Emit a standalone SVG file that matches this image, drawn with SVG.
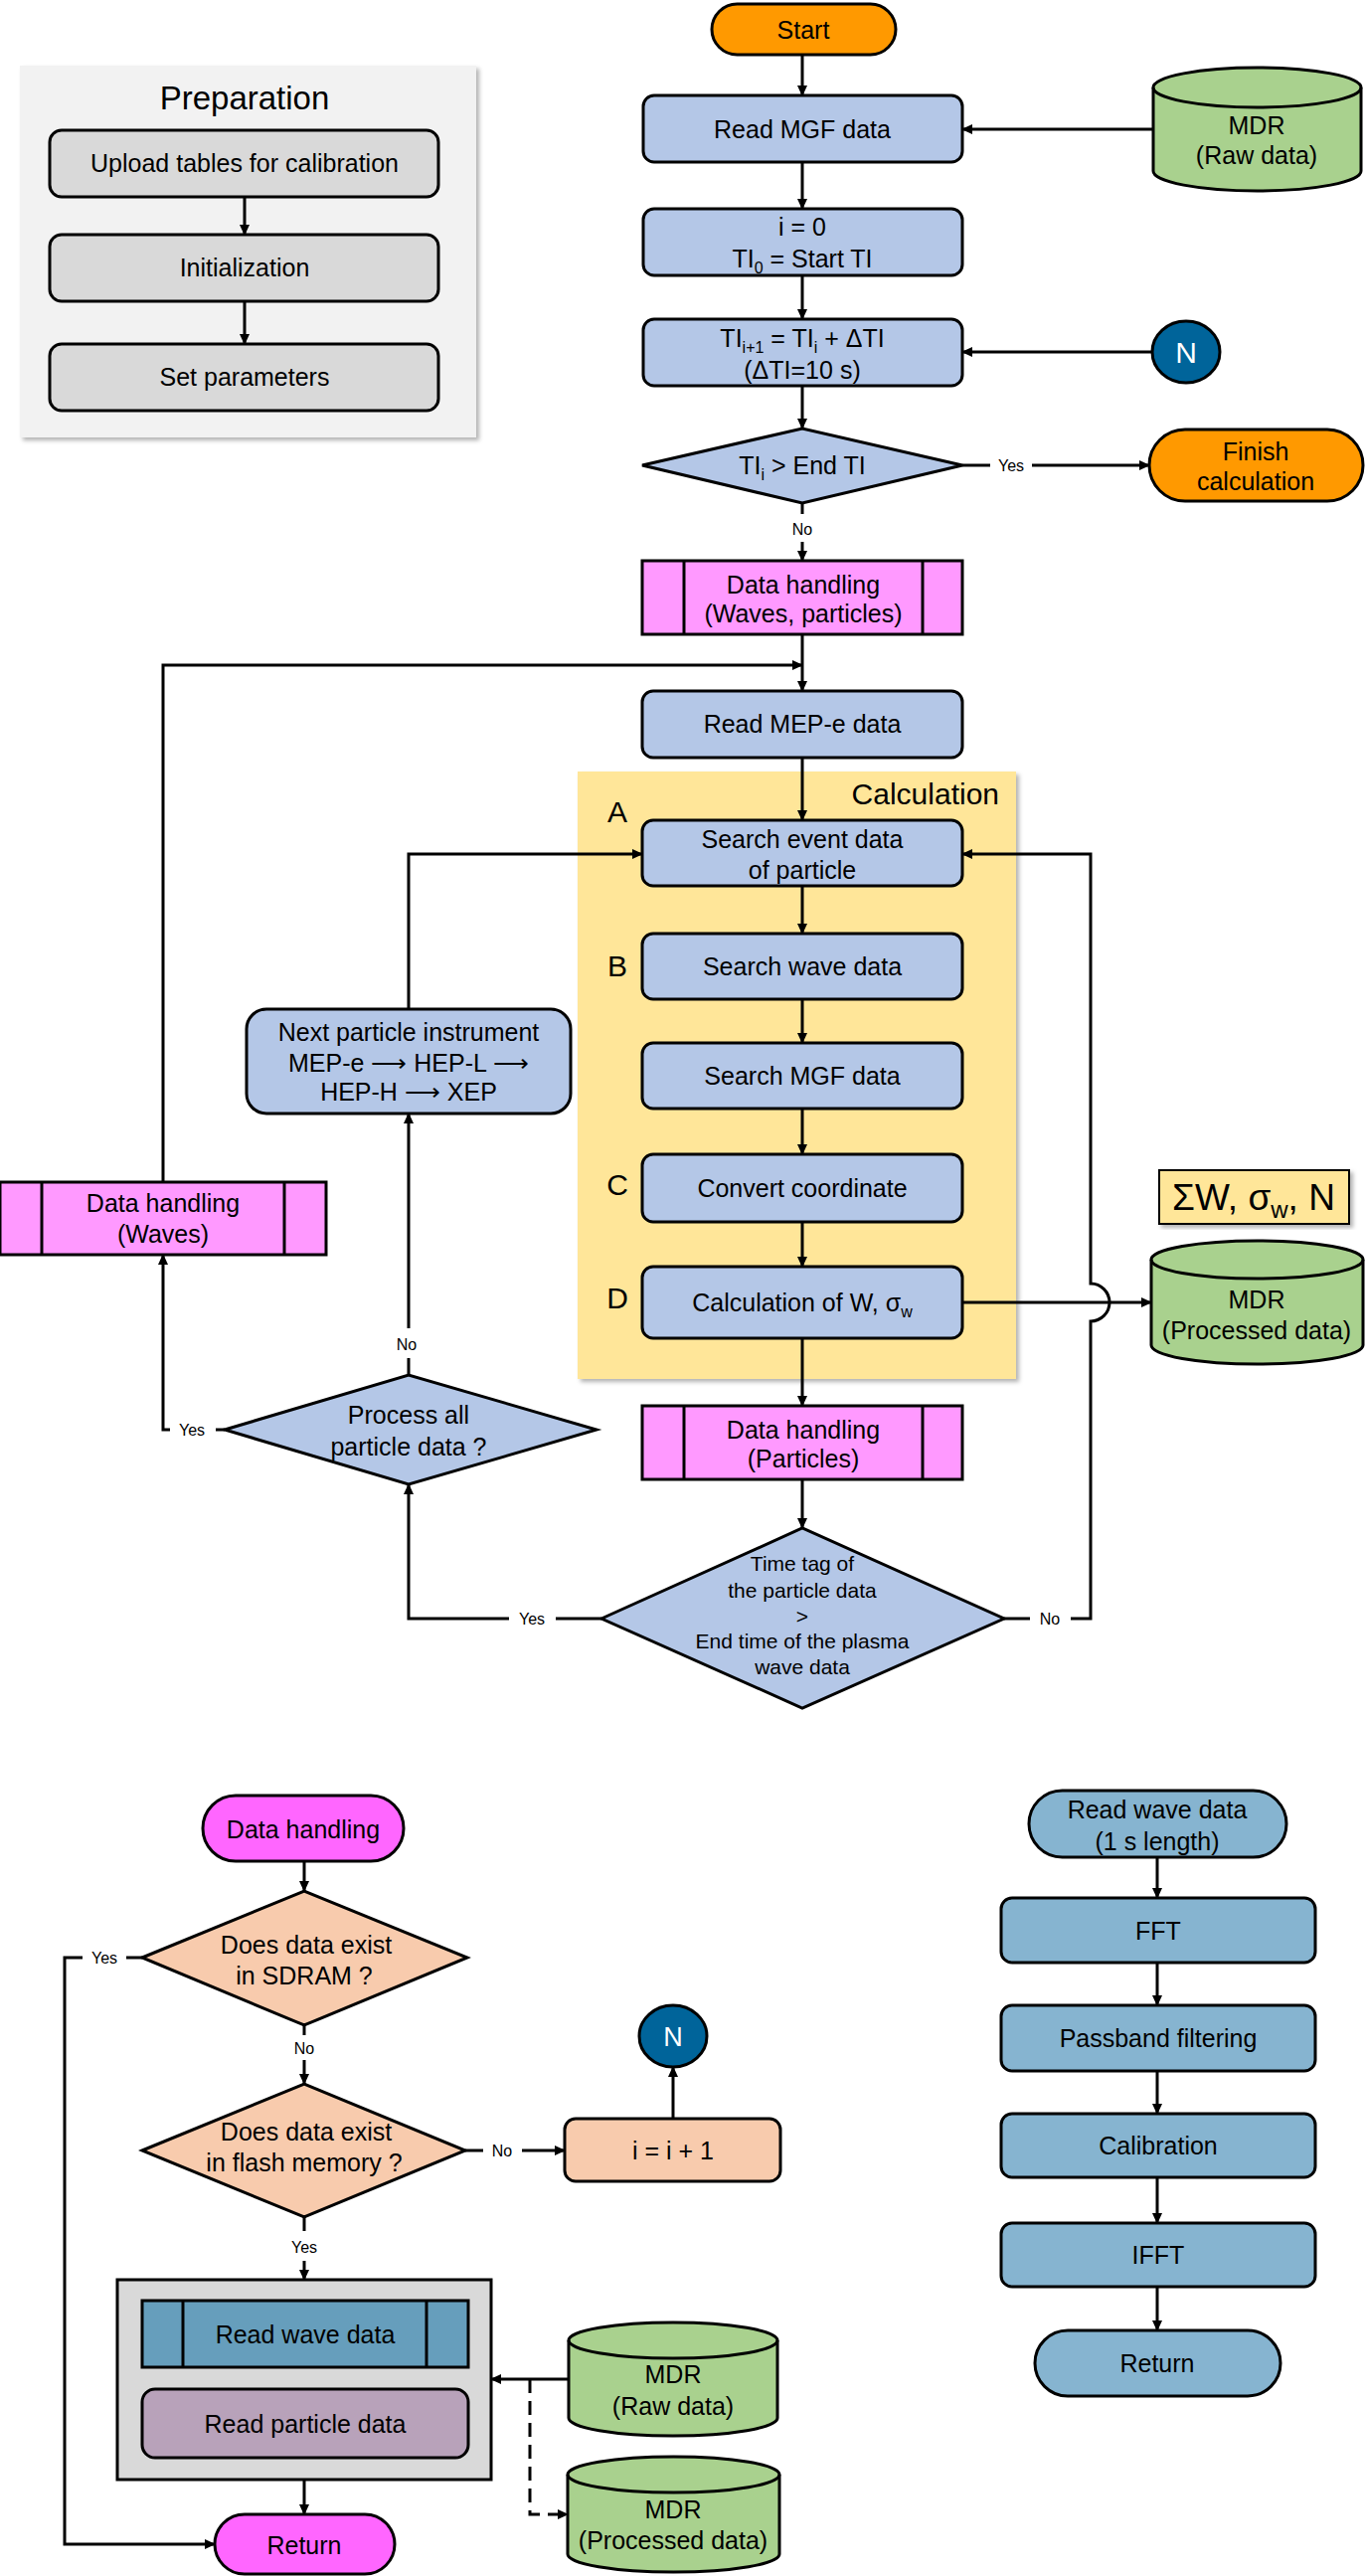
<svg xmlns="http://www.w3.org/2000/svg" width="1373" height="2591" viewBox="0 0 1373 2591">
<style>
text{font-family:"Liberation Sans",Arial,sans-serif;font-size:25px;text-anchor:middle;fill:#000}
.lbl{font-size:16px}
.big{font-size:30px}
.st{stroke:#000;stroke-width:3}
.blue{fill:#B4C7E7;stroke:#000;stroke-width:3}
.mag{fill:#FF99FF;stroke:#000;stroke-width:3}
.pill{fill:#FF66FF;stroke:#000;stroke-width:3}
.org{fill:#FF9900;stroke:#000;stroke-width:3}
.grn{fill:#A9D18E;stroke:#000;stroke-width:3}
.peach{fill:#F8CBAD;stroke:#000;stroke-width:3}
.wv{fill:#86B4D0;stroke:#000;stroke-width:3}
.gr{fill:#D9D9D9;stroke:#000;stroke-width:3}
.nc{fill:#00649A;stroke:#000;stroke-width:3}
.ln{fill:none;stroke:#000;stroke-width:3}
.dash{fill:none;stroke:#000;stroke-width:3;stroke-dasharray:14 8}
</style>
<defs>
<marker id="ah" markerUnits="userSpaceOnUse" markerWidth="11" markerHeight="10" refX="10" refY="5" orient="auto">
<path d="M0,0 L11,5 L0,10 z" fill="#000"/>
</marker>
<filter id="sh" x="-5%" y="-5%" width="115%" height="115%">
<feDropShadow dx="3" dy="3" stdDeviation="2" flood-color="#000" flood-opacity="0.3"/>
</filter>
</defs>

<!-- Preparation -->
<g id="preparation">
<rect x="20" y="66" width="459" height="374" fill="#F2F2F2" filter="url(#sh)"/>
<text x="246" y="110" style="font-size:33px">Preparation</text>
</g>
<g id="upload"><rect class="gr" x="50" y="131" width="391" height="67" rx="12"/><text x="246" y="173">Upload tables for calibration</text></g>
<g id="init"><rect class="gr" x="50" y="236" width="391" height="67" rx="12"/><text x="246" y="278">Initialization</text></g>
<g id="setparams"><rect class="gr" x="50" y="346" width="391" height="67" rx="12"/><text x="246" y="388">Set parameters</text></g>

<!-- Calculation region -->
<g id="calculation">
<rect x="581" y="776" width="441" height="611" fill="#FFE699" filter="url(#sh)"/>
<text x="1005" y="809" class="big" style="text-anchor:end">Calculation</text>
<text x="621" y="827" class="big">A</text>
<text x="621" y="982" class="big">B</text>
<text x="621" y="1202" class="big">C</text>
<text x="621" y="1316" class="big">D</text>
</g>

<!-- Connectors -->
<g id="connectors">
<line class="ln" x1="246" y1="198" x2="246" y2="236" marker-end="url(#ah)"/>
<line class="ln" x1="246" y1="303" x2="246" y2="346" marker-end="url(#ah)"/>

<line class="ln" x1="807" y1="55" x2="807" y2="96" marker-end="url(#ah)"/>
<line class="ln" x1="807" y1="163" x2="807" y2="210" marker-end="url(#ah)"/>
<line class="ln" x1="807" y1="277" x2="807" y2="321" marker-end="url(#ah)"/>
<line class="ln" x1="807" y1="388" x2="807" y2="431" marker-end="url(#ah)"/>
<line class="ln" x1="1160" y1="130" x2="968" y2="130" marker-end="url(#ah)"/>
<line class="ln" x1="1159" y1="354" x2="968" y2="354" marker-end="url(#ah)"/>
<line class="ln" x1="968" y1="468" x2="996" y2="468"/>
<line class="ln" x1="1038" y1="468" x2="1156" y2="468" marker-end="url(#ah)"/>
<text class="lbl" x="1017" y="474">Yes</text>
<line class="ln" x1="807" y1="506" x2="807" y2="517"/>
<line class="ln" x1="807" y1="545" x2="807" y2="564" marker-end="url(#ah)"/>
<text class="lbl" x="807" y="538">No</text>

<line class="ln" x1="807" y1="638" x2="807" y2="695" marker-end="url(#ah)"/>
<polyline class="ln" points="164,1189 164,669 807,669" marker-end="url(#ah)"/>
<line class="ln" x1="807" y1="762" x2="807" y2="825" marker-end="url(#ah)"/>
<line class="ln" x1="807" y1="891" x2="807" y2="939" marker-end="url(#ah)"/>
<line class="ln" x1="807" y1="1005" x2="807" y2="1049" marker-end="url(#ah)"/>
<line class="ln" x1="807" y1="1115" x2="807" y2="1161" marker-end="url(#ah)"/>
<line class="ln" x1="807" y1="1229" x2="807" y2="1274" marker-end="url(#ah)"/>
<line class="ln" x1="807" y1="1346" x2="807" y2="1414" marker-end="url(#ah)"/>
<line class="ln" x1="807" y1="1488" x2="807" y2="1537" marker-end="url(#ah)"/>
<line class="ln" x1="968" y1="1310" x2="1158" y2="1310" marker-end="url(#ah)"/>

<line class="ln" x1="1010" y1="1628" x2="1036" y2="1628"/>
<path class="ln" d="M1077,1628 H1097 V1329 A19,19 0 0 0 1097,1291 V859 H968" marker-end="url(#ah)"/>
<text class="lbl" x="1056" y="1634">No</text>

<line class="ln" x1="605" y1="1628" x2="559" y2="1628"/>
<polyline class="ln" points="512,1628 411,1628 411,1493" marker-end="url(#ah)"/>
<text class="lbl" x="535" y="1634">Yes</text>

<line class="ln" x1="411" y1="1383" x2="411" y2="1366"/>
<line class="ln" x1="411" y1="1336" x2="411" y2="1120" marker-end="url(#ah)"/>
<text class="lbl" x="409" y="1358">No</text>
<polyline class="ln" points="411,1015 411,859 646,859" marker-end="url(#ah)"/>

<line class="ln" x1="226" y1="1438" x2="217" y2="1438"/>
<polyline class="ln" points="171,1438 164,1438 164,1262" marker-end="url(#ah)"/>
<text class="lbl" x="193" y="1444">Yes</text>

<!-- bottom-left -->
<line class="ln" x1="306" y1="1872" x2="306" y2="1902" marker-end="url(#ah)"/>
<line class="ln" x1="306" y1="2037" x2="306" y2="2047"/>
<line class="ln" x1="306" y1="2072" x2="306" y2="2096" marker-end="url(#ah)"/>
<text class="lbl" x="306" y="2066">No</text>
<line class="ln" x1="143" y1="1969" x2="127" y2="1969"/>
<polyline class="ln" points="83,1969 65,1969 65,2559 216,2559" marker-end="url(#ah)"/>
<text class="lbl" x="105" y="1975">Yes</text>
<line class="ln" x1="468" y1="2163" x2="486" y2="2163"/>
<line class="ln" x1="525" y1="2163" x2="568" y2="2163" marker-end="url(#ah)"/>
<text class="lbl" x="505" y="2169">No</text>
<line class="ln" x1="677" y1="2131" x2="677" y2="2079" marker-end="url(#ah)"/>
<line class="ln" x1="306" y1="2230" x2="306" y2="2244"/>
<line class="ln" x1="306" y1="2274" x2="306" y2="2293" marker-end="url(#ah)"/>
<text class="lbl" x="306" y="2266">Yes</text>
<line class="ln" x1="306" y1="2494" x2="306" y2="2529" marker-end="url(#ah)"/>
<line class="ln" x1="572" y1="2393" x2="494" y2="2393" marker-end="url(#ah)"/>
<polyline class="dash" points="533,2393 533,2529 571,2529" marker-end="url(#ah)"/>

<!-- right flow -->
<line class="ln" x1="1164" y1="1868" x2="1164" y2="1909" marker-end="url(#ah)"/>
<line class="ln" x1="1164" y1="1974" x2="1164" y2="2017" marker-end="url(#ah)"/>
<line class="ln" x1="1164" y1="2083" x2="1164" y2="2126" marker-end="url(#ah)"/>
<line class="ln" x1="1164" y1="2190" x2="1164" y2="2236" marker-end="url(#ah)"/>
<line class="ln" x1="1164" y1="2300" x2="1164" y2="2344" marker-end="url(#ah)"/>
</g>

<!-- Main column nodes -->
<g id="start"><rect class="org" x="716" y="4" width="185" height="51" rx="25.5"/><text x="808" y="39">Start</text></g>
<g id="readmgf"><rect class="blue" x="647" y="96" width="321" height="67" rx="11"/><text x="807" y="139">Read MGF data</text></g>
<g id="init-i"><rect class="blue" x="647" y="210" width="321" height="67" rx="11"/>
<text x="807" y="237">i = 0</text>
<text x="807" y="269">TI<tspan font-size="16" dy="6">0</tspan><tspan dy="-6"> = Start TI</tspan></text></g>
<g id="ti-step"><rect class="blue" x="647" y="321" width="321" height="67" rx="11"/>
<text x="807" y="349">TI<tspan font-size="16" dy="6">i+1</tspan><tspan dy="-6"> = TI</tspan><tspan font-size="16" dy="6">i</tspan><tspan dy="-6"> + ΔTI</tspan></text>
<text x="807" y="381">(ΔTI=10 s)</text></g>
<g id="cond-ti"><polygon class="blue" points="646,468 807,431 968,468 807,506"/>
<text x="807" y="477">TI<tspan font-size="16" dy="6">i</tspan><tspan dy="-6"> &gt; End TI</tspan></text></g>
<g id="finish"><rect class="org" x="1156" y="432" width="215" height="72" rx="36"/>
<text x="1263" y="463">Finish</text><text x="1263" y="493">calculation</text></g>
<g id="mdr-raw"><path class="grn" d="M1160,88 A104.5,20 0 0 1 1369,88 L1369,172 A104.5,20 0 0 1 1160,172 Z"/>
<path class="ln" d="M1160,88 A104.5,20 0 0 0 1369,88"/>
<text x="1264" y="135">MDR</text><text x="1264" y="165">(Raw data)</text></g>
<g id="n-top"><ellipse class="nc" cx="1193" cy="354" rx="34" ry="31"/><text x="1193" y="365" style="font-size:30px;fill:#fff">N</text></g>

<g id="dh-wp"><rect class="mag" x="646" y="564" width="322" height="74"/>
<line class="st" x1="688" y1="564" x2="688" y2="638"/><line class="st" x1="928" y1="564" x2="928" y2="638"/>
<text x="808" y="597">Data handling</text><text x="808" y="626">(Waves, particles)</text></g>
<g id="readmep"><rect class="blue" x="646" y="695" width="322" height="67" rx="11"/><text x="807" y="737">Read MEP-e data</text></g>
<g id="search-event"><rect class="blue" x="646" y="825" width="322" height="66" rx="11"/>
<text x="807" y="853">Search event data</text><text x="807" y="884">of particle</text></g>
<g id="search-wave"><rect class="blue" x="646" y="939" width="322" height="66" rx="11"/><text x="807" y="981">Search wave data</text></g>
<g id="search-mgf"><rect class="blue" x="646" y="1049" width="322" height="66" rx="11"/><text x="807" y="1091">Search MGF data</text></g>
<g id="convert"><rect class="blue" x="646" y="1161" width="322" height="68" rx="11"/><text x="807" y="1204">Convert coordinate</text></g>
<g id="calcw"><rect class="blue" x="646" y="1274" width="322" height="72" rx="11"/>
<text x="807" y="1319">Calculation of W, σ<tspan font-size="16" dy="6">w</tspan></text></g>
<g id="sum"><rect x="1166" y="1177" width="191" height="54" fill="#FFE699" stroke="#000" stroke-width="2" filter="url(#sh)"/>
<text x="1261" y="1217" style="font-size:37px">ΣW, σ<tspan font-size="24" dy="8">w</tspan><tspan dy="-8">, N</tspan></text></g>
<g id="mdr-proc"><path class="grn" d="M1158,1267 A106.5,19 0 0 1 1371,1267 L1371,1353 A106.5,19 0 0 1 1158,1353 Z"/>
<path class="ln" d="M1158,1267 A106.5,19 0 0 0 1371,1267"/>
<text x="1264" y="1316">MDR</text><text x="1264" y="1347">(Processed data)</text></g>
<g id="dh-p"><rect class="mag" x="646" y="1414" width="322" height="74"/>
<line class="st" x1="688" y1="1414" x2="688" y2="1488"/><line class="st" x1="928" y1="1414" x2="928" y2="1488"/>
<text x="808" y="1447">Data handling</text><text x="808" y="1476">(Particles)</text></g>
<g id="cond-time"><polygon class="blue" points="605,1628 807,1537 1010,1628 807,1718"/>
<text x="807" y="1580" style="font-size:21px">Time tag of</text>
<text x="807" y="1607" style="font-size:21px">the particle data</text>
<text x="807" y="1633" style="font-size:21px">&gt;</text>
<text x="807" y="1658" style="font-size:21px">End time of the plasma</text>
<text x="807" y="1684" style="font-size:21px">wave data</text></g>
<g id="cond-all"><polygon class="blue" points="226,1438 411,1383 600,1438 411,1493"/>
<text x="411" y="1432">Process all</text><text x="411" y="1464">particle data ?</text></g>
<g id="next"><rect class="blue" x="248" y="1015" width="326" height="105" rx="20"/>
<text x="411" y="1047">Next particle instrument</text>
<text x="411" y="1078">MEP-e ⟶ HEP-L ⟶</text>
<text x="411" y="1107">HEP-H ⟶ XEP</text></g>
<g id="dh-w"><rect class="mag" x="0" y="1189" width="328" height="73"/>
<line class="st" x1="42" y1="1189" x2="42" y2="1262"/><line class="st" x1="286" y1="1189" x2="286" y2="1262"/>
<text x="164" y="1219">Data handling</text><text x="164" y="1250">(Waves)</text></g>

<!-- Bottom-left subroutine -->
<g id="dh-start"><rect class="pill" x="204" y="1806" width="202" height="66" rx="33"/><text x="305" y="1849">Data handling</text></g>
<g id="cond-sdram"><polygon class="peach" points="143,1969 306,1902 470,1969 306,2037"/>
<text x="308" y="1965">Does data exist</text><text x="306" y="1996">in SDRAM ?</text></g>
<g id="cond-flash"><polygon class="peach" points="143,2163 306,2096 468,2163 306,2230"/>
<text x="308" y="2153">Does data exist</text><text x="306" y="2184">in flash memory ?</text></g>
<g id="incr"><rect class="peach" x="568" y="2131" width="217" height="63" rx="11"/><text x="677" y="2172">i = i + 1</text></g>
<g id="n-bot"><ellipse class="nc" cx="677" cy="2048" rx="34" ry="31"/><text x="677" y="2058" style="font-size:27px;fill:#fff">N</text></g>
<g id="read-group"><rect x="118" y="2293" width="376" height="201" fill="#D9D9D9" stroke="#000" stroke-width="3"/></g>
<g id="read-wave"><rect x="143" y="2314" width="328" height="67" fill="#669EBC" stroke="#000" stroke-width="3"/>
<line class="st" x1="184" y1="2314" x2="184" y2="2381"/><line class="st" x1="429" y1="2314" x2="429" y2="2381"/>
<text x="307" y="2357">Read wave data</text></g>
<g id="read-particle"><rect x="143" y="2403" width="328" height="69" rx="13" fill="#B8A2BA" stroke="#000" stroke-width="3"/>
<text x="307" y="2447">Read particle data</text></g>
<g id="return-l"><rect class="pill" x="216" y="2529" width="181" height="60" rx="30"/><text x="306" y="2569">Return</text></g>
<g id="mdr-raw2"><path class="grn" d="M572,2354 A105,18 0 0 1 782,2354 L782,2432 A105,18 0 0 1 572,2432 Z"/>
<path class="ln" d="M572,2354 A105,18 0 0 0 782,2354"/>
<text x="677" y="2397">MDR</text><text x="677" y="2429">(Raw data)</text></g>
<g id="mdr-proc2"><path class="grn" d="M571,2489 A106.5,18 0 0 1 784,2489 L784,2569 A106.5,18 0 0 1 571,2569 Z"/>
<path class="ln" d="M571,2489 A106.5,18 0 0 0 784,2489"/>
<text x="677" y="2533">MDR</text><text x="677" y="2564">(Processed data)</text></g>

<!-- Right wave flow -->
<g id="rw-start"><rect class="wv" x="1035" y="1801" width="259" height="67" rx="33.5"/>
<text x="1164" y="1829">Read wave data</text><text x="1164" y="1861">(1 s length)</text></g>
<g id="fft"><rect class="wv" x="1007" y="1909" width="316" height="65" rx="11"/><text x="1165" y="1951">FFT</text></g>
<g id="passband"><rect class="wv" x="1007" y="2017" width="316" height="66" rx="11"/><text x="1165" y="2059">Passband filtering</text></g>
<g id="calib"><rect class="wv" x="1007" y="2126" width="316" height="64" rx="11"/><text x="1165" y="2167">Calibration</text></g>
<g id="ifft"><rect class="wv" x="1007" y="2236" width="316" height="64" rx="11"/><text x="1165" y="2277">IFFT</text></g>
<g id="return-r"><rect class="wv" x="1041" y="2344" width="247" height="66" rx="33"/><text x="1164" y="2386">Return</text></g>
</svg>
